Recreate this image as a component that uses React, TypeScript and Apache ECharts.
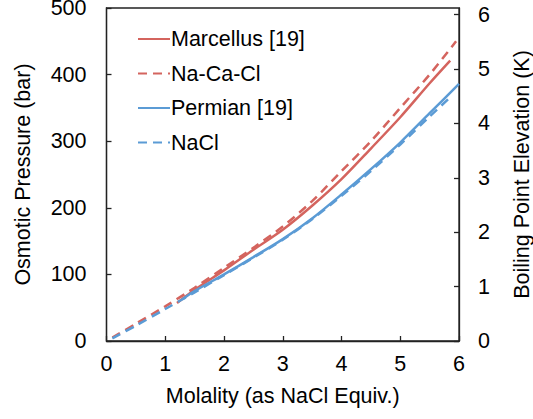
import React, { useEffect, useRef } from "react";
import * as echarts from "echarts";

const marcellusX = [1.2, 1.5, 2, 2.5, 3, 3.5, 4, 4.5, 5, 5.5, 5.85];
const marcellusY = [57, 77, 106, 137, 167, 203, 243, 289, 336, 387, 421];
const naCaClX = [0.1, 0.5, 1, 1.5, 2, 2.5, 3, 3.5, 4, 4.5, 5, 5.5, 5.95];
const naCaClY = [5, 26, 52, 80, 110, 140, 172, 210, 255, 300, 350, 400, 450];
const permianX = [1.3, 1.5, 2, 2.5, 3, 3.5, 4, 4.5, 5, 5.5, 6];
const permianY = [63, 75, 100, 126, 153, 184, 220, 258, 298, 342, 386];
const naclX = [0.1, 0.5, 1, 1.5, 2, 2.5, 3, 3.5, 4, 4.5, 5, 5.5, 5.85];
const naclY = [4, 23, 48, 73, 99, 125, 152, 183, 218, 255, 295, 337, 366];

const seriesNames = ["Marcellus [19]", "Na-Ca-Cl", "Permian [19]", "NaCl"];
const RED = "#D4645E";
const BLUE = "#5B9BD5";

const pairs = (xs: number[], ys: number[]) => xs.map((x, i) => [x, ys[i]]);

export default function App() {
  const ref = useRef<HTMLDivElement>(null);
  useEffect(() => {
    if (!ref.current) return;
    const chart = echarts.init(ref.current, undefined, { renderer: "svg" });
    const font = "Liberation Sans, Arial, sans-serif";
    const axisLine = { show: true, lineStyle: { color: "#222", width: 1.3 } };
    const axisTick = { show: true, inside: true, length: 5, lineStyle: { color: "#222", width: 1.3 } };
    const line = (name: string, data: number[][], color: string, dashed: boolean) => ({
      name,
      type: "line",
      data,
      smooth: 0.3,
      showSymbol: false,
      symbol: "none",
      lineStyle: { color, width: 2.5, type: dashed ? [9, 6] : "solid" },
      itemStyle: { color },
      yAxisIndex: 0,
    });
    chart.setOption({
      animation: false,
      textStyle: { fontFamily: font },
      grid: {
        left: 106.5,
        right: 74,
        top: 8,
        bottom: 78,
        show: true,
        borderColor: "#222",
        borderWidth: 1.3,
        containLabel: false,
        outerBoundsMode: "none",
      },
      legend: {
        orient: "vertical",
        left: 137,
        top: 28,
        padding: 0,
        itemWidth: 32,
        itemHeight: 14,
        itemGap: 12.5,
        data: seriesNames,
        itemStyle: { color: "transparent", borderWidth: 0, opacity: 0 },
        textStyle: { fontSize: 21.5, color: "#000", fontFamily: font, padding: [0, 0, 0, -4] },
      },
      xAxis: {
        type: "value",
        min: 0,
        max: 6,
        interval: 1,
        name: "Molality (as NaCl Equiv.)",
        nameLocation: "middle",
        nameGap: 44,
        nameTextStyle: { fontSize: 21.5, color: "#000", fontFamily: font },
        axisLine,
        axisTick,
        splitLine: { show: false },
        axisLabel: { fontSize: 21.5, color: "#000", margin: 12, fontFamily: font },
      },
      yAxis: [
        {
          type: "value",
          min: 0,
          max: 500,
          interval: 100,
          position: "left",
          name: "Osmotic Pressure (bar)",
          nameLocation: "middle",
          nameRotate: 90,
          nameGap: 73,
          nameTextStyle: { fontSize: 21.5, color: "#000", fontFamily: font },
          axisLine,
          axisTick,
          splitLine: { show: false },
          axisLabel: { fontSize: 21.5, lineHeight: 16, color: "#000", margin: 20, fontFamily: font },
        },
        {
          type: "value",
          min: 0,
          max: 6.12,
          interval: 1,
          position: "right",
          name: "Boiling Point Elevation (K)",
          nameLocation: "middle",
          nameRotate: 90,
          nameGap: 52,
          nameTextStyle: { fontSize: 21.5, color: "#000", fontFamily: font },
          axisLine,
          axisTick,
          splitLine: { show: false },
          axisLabel: {
            fontSize: 21.5,
            lineHeight: 16,
            color: "#000",
            margin: 19,
            fontFamily: font,
            showMaxLabel: false,
            formatter: (v: number) => (Number.isInteger(v) ? String(v) : ""),
          },
        },
      ],
      series: [
        line(seriesNames[0], pairs(marcellusX, marcellusY), RED, false),
        line(seriesNames[1], pairs(naCaClX, naCaClY), RED, true),
        line(seriesNames[2], pairs(permianX, permianY), BLUE, false),
        line(seriesNames[3], pairs(naclX, naclY), BLUE, true),
      ],
    });
    return () => chart.dispose();
  }, []);
  return <div ref={ref} style={{ width: 533, height: 419, position: "absolute", left: 0, top: 0 }} />;
}
